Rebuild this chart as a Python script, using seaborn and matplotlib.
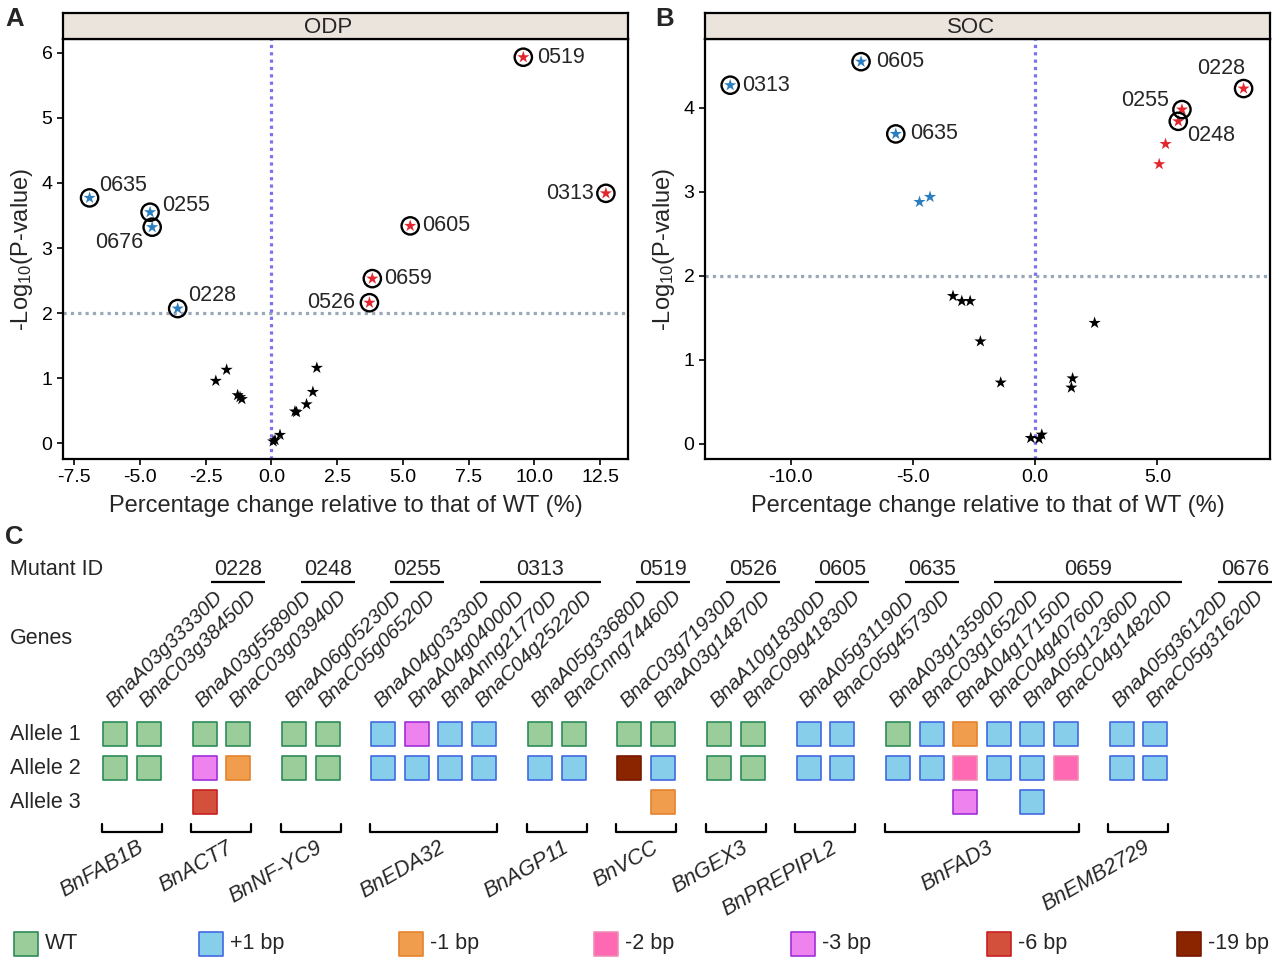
import matplotlib
matplotlib.use('Agg')
import matplotlib.pyplot as plt
import numpy as np
import pandas as pd
import seaborn as sns

# ---------------- Data: panel A (ODP) ----------------
odp_x = [9.58, 12.72, 5.28, 3.84, 3.73, -6.91, -4.61, -4.53, -3.56,
         -2.11, -1.70, -1.28, -1.19, -1.12, 0.90, 0.96, 1.34, 1.58, 1.73, 0.14, 0.33, 0.07]
odp_y = [5.93, 3.84, 3.34, 2.53, 2.16, 3.77, 3.55, 3.32, 2.07,
         0.96, 1.13, 0.74, 0.71, 0.68, 0.49, 0.48, 0.60, 0.79, 1.16, 0.05, 0.13, 0.03]
odp_dir = ['up'] * 5 + ['down'] * 4 + ['ns'] * 13
odp_lab = ['0519', '0313', '0605', '0659', '0526', '0635', '0255', '0676', '0228'] + [''] * 13

# ---------------- Data: panel B (SOC) ----------------
soc_x = [-12.47, -7.12, -5.70, 8.52, 6.00, 5.85, 5.33, 5.07, -4.73, -4.30,
         -3.36, -3.00, -2.66, -2.24, -1.41, 2.43, 1.53, 1.48, -0.18, 0.16, 0.27]
soc_y = [4.27, 4.55, 3.69, 4.23, 3.98, 3.84, 3.57, 3.33, 2.88, 2.94,
         1.76, 1.70, 1.70, 1.22, 0.73, 1.44, 0.78, 0.67, 0.07, 0.06, 0.11]
soc_dir = ['down'] * 3 + ['up'] * 5 + ['down'] * 2 + ['ns'] * 11
soc_lab = ['0313', '0605', '0635', '0228', '0255', '0248'] + [''] * 15

odp_xticks = [-7.5, -5.0, -2.5, 0.0, 2.5, 5.0, 7.5, 10.0, 12.5]
odp_yticks = [0, 1, 2, 3, 4, 5, 6]
soc_xticks = [-10.0, -5.0, 0.0, 5.0]
soc_yticks = [0, 1, 2, 3, 4]

# ---------------- Data: panel C ----------------
mutant_ids = ['0228', '0248', '0255', '0313', '0519', '0526', '0605', '0635', '0659', '0676']
families = ['BnFAB1B', 'BnACT7', 'BnNF-YC9', 'BnEDA32', 'BnAGP11', 'BnVCC', 'BnGEX3',
            'BnPREPIPL2', 'BnFAD3', 'BnEMB2729']
genes = [
    ['BnaA03g33330D', 'BnaC03g38450D'],
    ['BnaA03g55890D', 'BnaC03g03940D'],
    ['BnaA06g05230D', 'BnaC05g06520D'],
    ['BnaA04g03330D', 'BnaA04g04000D', 'BnaAnng21770D', 'BnaC04g25220D'],
    ['BnaA05g33680D', 'BnaCnng74460D'],
    ['BnaC03g71930D', 'BnaA03g14870D'],
    ['BnaA10g18300D', 'BnaC09g41830D'],
    ['BnaA05g31190D', 'BnaC05g45730D'],
    ['BnaA03g13590D', 'BnaC03g16520D', 'BnaA04g17150D', 'BnaC04g40760D', 'BnaA05g12360D', 'BnaC04g14820D'],
    ['BnaA05g36120D', 'BnaC05g31620D'],
]
allele1 = [['WT', 'WT'], ['WT', 'WT'], ['WT', 'WT'], ['+1 bp', '-3 bp', '+1 bp', '+1 bp'],
           ['WT', 'WT'], ['WT', 'WT'], ['WT', 'WT'], ['+1 bp', '+1 bp'],
           ['WT', '+1 bp', '-1 bp', '+1 bp', '+1 bp', '+1 bp'], ['+1 bp', '+1 bp']]
allele2 = [['WT', 'WT'], ['-3 bp', '-1 bp'], ['WT', 'WT'], ['+1 bp', '+1 bp', '+1 bp', '+1 bp'],
           ['+1 bp', '+1 bp'], ['-19 bp', '+1 bp'], ['WT', 'WT'], ['+1 bp', '+1 bp'],
           ['+1 bp', '+1 bp', '-2 bp', '+1 bp', '+1 bp', '-2 bp'], ['+1 bp', '+1 bp']]
allele3 = [['', ''], ['-6 bp', ''], ['', ''], ['', '', '', ''],
           ['', ''], ['', '-1 bp'], ['', ''], ['', ''],
           ['', '', '-3 bp', '', '+1 bp', ''], ['', '']]
allele_types = ['WT', '+1 bp', '-1 bp', '-2 bp', '-3 bp', '-6 bp', '-19 bp']
type_fill = ['#9BCD9B', '#87CEEB', '#F09E4E', '#FF69B4', '#EE82EE', '#D2503C', '#8B2500']
type_edge = ['#2E8B57', '#4169E1', '#E5832E', '#F08CB4', '#A030D8', '#C82020', '#781800']

# ---------------- Style ----------------
sns.set_theme(style='ticks')
plt.rcParams['font.family'] = ['Liberation Sans', 'DejaVu Sans']
plt.rcParams['mathtext.fontset'] = 'custom'
plt.rcParams['mathtext.rm'] = 'Liberation Sans'
plt.rcParams['mathtext.it'] = 'Liberation Sans:italic'
plt.rcParams['mathtext.bf'] = 'Liberation Sans:bold'

W, H = 1280, 969
fig = plt.figure(figsize=(W / 100, H / 100), dpi=100)


def rect(l, t, r, b):
    return [l / W, 1 - b / H, (r - l) / W, (b - t) / H]


pal = {'up': '#E3262E', 'down': '#2A7DBE', 'ns': 'black'}


def volcano(box, title, xs, ys, dirs, labs, offs, xlim, ylim, xticks, yticks):
    l, t, r, b = box
    ax = fig.add_axes(rect(l, t, r, b))
    df = pd.DataFrame({'x': xs, 'y': ys, 'dir': dirs, 'label': labs})
    ax.axhline(2, color='#98A8B8', lw=2.3, ls=(0, (1, 1.3)), zorder=1)
    ax.axvline(0, color='#7A72F0', lw=2.3, ls=(0, (1, 1.3)), zorder=1)
    sns.scatterplot(data=df, x='x', y='y', hue='dir', palette=pal, marker='*', s=85,
                    linewidth=0, legend=False, ax=ax, zorder=3)
    lab = df[df['label'] != '']
    sns.scatterplot(data=lab, x='x', y='y', marker='o', s=155, facecolor='none',
                    edgecolor='black', linewidth=1.7, legend=False, ax=ax, zorder=4)
    for _, row in lab.iterrows():
        dx, dy, ha = offs[row['label']]
        ax.annotate(row['label'], (row['x'], row['y']), xytext=(dx * 0.72, -dy * 0.72),
                    textcoords='offset points', ha=ha, va='center', fontsize=15.5, zorder=5)
    ax.set_xlim(*xlim)
    ax.set_ylim(*ylim)
    ax.set_xticks(xticks)
    ax.set_xticklabels([f'{v:.1f}' for v in xticks])
    ax.set_yticks(yticks)
    ax.set_yticklabels([str(v) for v in yticks])
    ax.tick_params(labelsize=14, width=1.2, length=4, color='black', labelcolor='black')
    for s in ax.spines.values():
        s.set_visible(True)
        s.set_linewidth(1.6)
        s.set_color('black')
    ax.set_xlabel('Percentage change relative to that of WT (%)', fontsize=17, labelpad=6)
    ax.set_ylabel(r'-Log$_{10}$(P-value)', fontsize=17, labelpad=5)
    sax = fig.add_axes(rect(l, 13, r, t))
    sax.set_facecolor('#EBE4DC')
    sax.set_xticks([])
    sax.set_yticks([])
    for s in sax.spines.values():
        s.set_linewidth(1.6)
        s.set_color('black')
    sax.text(0.47, 0.45, title, ha='center', va='center', fontsize=16, transform=sax.transAxes)
    return ax


odp_offs = {'0519': (14, 0, 'left'), '0313': (-12, 0, 'right'), '0605': (12, 0, 'left'),
            '0659': (12, 0, 'left'), '0526': (-14, 0, 'right'), '0635': (10, -12, 'left'),
            '0255': (12, -7, 'left'), '0676': (-9, 15, 'right'), '0228': (10, -13, 'left')}
soc_offs = {'0313': (12, 0, 'left'), '0605': (15, 0, 'left'), '0635': (14, 0, 'left'),
            '0228': (2, -20, 'right'), '0255': (-13, -9, 'right'), '0248': (9, 14, 'left')}

volcano((63, 39, 628, 459), 'ODP', odp_x, odp_y, odp_dir, odp_lab, odp_offs,
        (-7.92, 13.56), (-0.24, 6.21), odp_xticks, odp_yticks)
volcano((705, 39, 1270, 459), 'SOC', soc_x, soc_y, soc_dir, soc_lab, soc_offs,
        (-13.5, 9.6), (-0.18, 4.82), soc_xticks, soc_yticks)

fig.text(5 / W, 1 - 19 / H, 'A', fontsize=18.5, fontweight='bold', va='center', ha='left')
fig.text(655 / W, 1 - 19 / H, 'B', fontsize=18.5, fontweight='bold', va='center', ha='left')
fig.text(5 / W, 1 - 537 / H, 'C', fontsize=18.5, fontweight='bold', va='center', ha='left')

# ---------------- Panel C ----------------
X0, STEP, GAP = 115, 33.5, 56.0   # pixel layout of the square grid
Y0, RSTEP = 700, 34
cax = fig.add_axes(rect(0, 540, W, H))
cax.set_xlim(-X0 / STEP, (W - X0) / STEP)
cax.set_ylim((H - Y0) / RSTEP, (540 - Y0) / RSTEP)
cax.axis('off')


def ry(py):
    return (py - Y0) / RSTEP


def ux(px):
    return (px - X0) / STEP


rows = []
u = 0.0
group_cols = []
for gi, gl in enumerate(genes):
    cols = []
    for ci, g in enumerate(gl):
        cols.append(u)
        for r, al in enumerate([allele1, allele2, allele3], start=1):
            t = al[gi][ci]
            if t:
                rows.append({'u': u, 'r': r, 'type': t})
        cax.text(u - 0.05, ry(708), g, rotation=45, rotation_mode='anchor', ha='left',
                 va='baseline', fontstyle='italic', fontsize=14.8)
        u += 1
    group_cols.append(cols)
    u += GAP / STEP - 1

cdf = pd.DataFrame(rows)
for t, fc, ec in zip(allele_types, type_fill, type_edge):
    sub = cdf[cdf['type'] == t]
    if len(sub):
        sns.scatterplot(data=sub, x='u', y='r', marker='s', s=300, color=fc, edgecolor=ec,
                        linewidth=1.2, legend=False, ax=cax, zorder=3)

for mid, fam, cols in zip(mutant_ids, families, group_cols):
    a, b = cols[0], cols[-1]
    cax.text((a + b) / 2 + 3.18, ry(570), mid, ha='center', va='center', fontsize=15.5)
    cax.plot([a + 2.87, b + 3.49], [ry(582), ry(582)], color='black', lw=1.6,
             solid_capstyle='butt')
    cax.plot([a - 0.4, a - 0.4, b + 0.4, b + 0.4], [ry(824), ry(832), ry(832), ry(824)],
             color='black', lw=1.6)
    cax.text((a + b) / 2 + 0.15, ry(837), fam, rotation=30, rotation_mode='anchor',
             ha='right', va='top', fontstyle='italic', fontsize=15.5)

cax.text(ux(10), ry(570), 'Mutant ID', ha='left', va='center', fontsize=15.5)
cax.text(ux(10), ry(638), 'Genes', ha='left', va='center', fontsize=15.5)
for r in (1, 2, 3):
    cax.text(ux(10), r, f'Allele {r}', ha='left', va='center', fontsize=15.5)

# legend
leg_px = [25.5, 210.5, 410.5, 605.5, 802.5, 998.5, 1188.5]
ldf = pd.DataFrame({'u': [ux(p) for p in leg_px], 'r': [ry(943.5)] * 7, 'type': allele_types})
for (_, row), fc, ec in zip(ldf.iterrows(), type_fill, type_edge):
    sns.scatterplot(x=[row['u']], y=[row['r']], marker='s', s=300, color=fc, edgecolor=ec,
                    linewidth=1.2, legend=False, ax=cax, zorder=3)
    cax.text(row['u'] + 0.58, row['r'], row['type'], ha='left', va='center', fontsize=15.5)

fig.savefig('out.png', dpi=100)
